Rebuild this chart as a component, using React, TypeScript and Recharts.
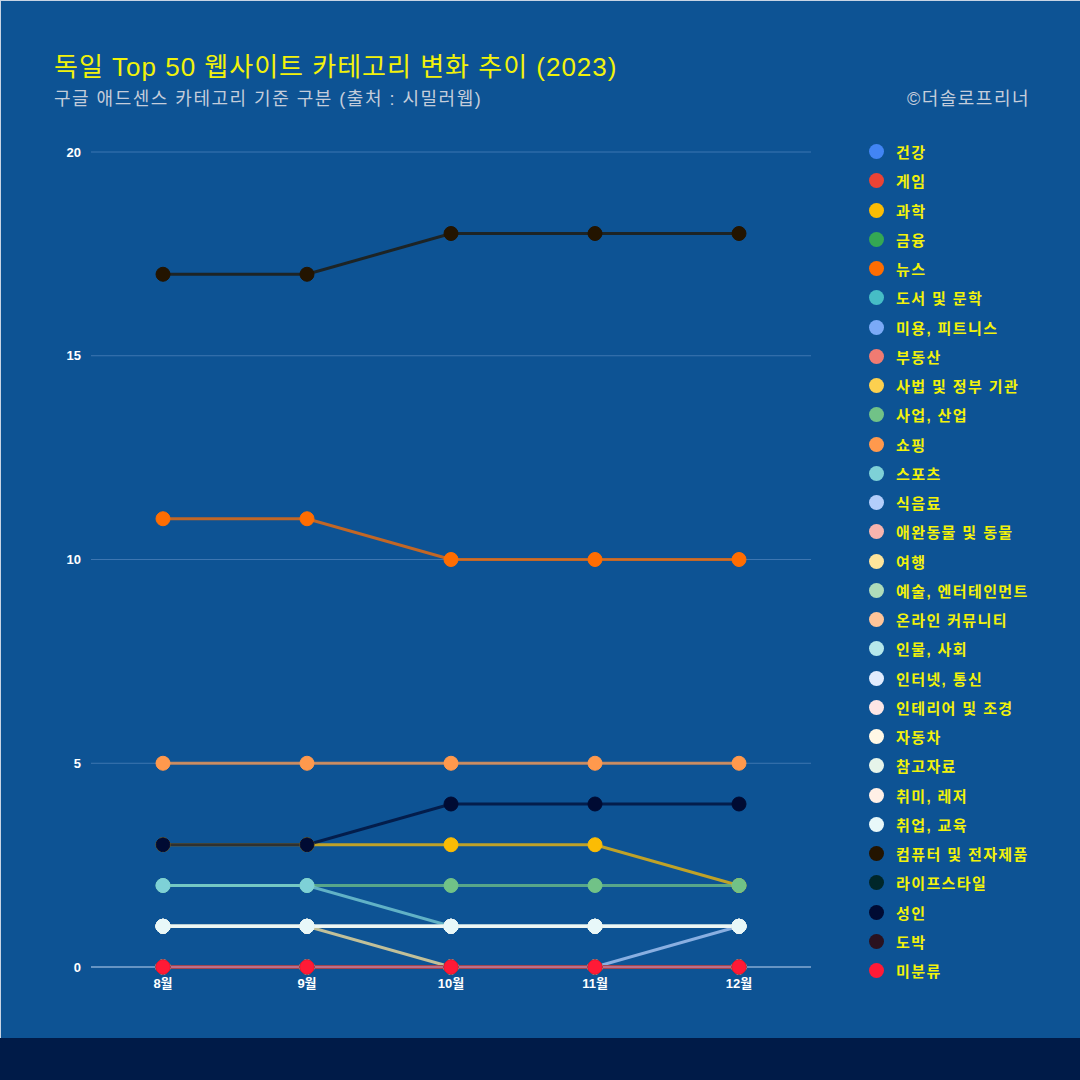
import { LineChart, Line, XAxis, YAxis, CartesianGrid } from 'recharts'

const months = ['8월', '9월', '10월', '11월', '12월']

const categories = [
  '건강', '게임', '과학', '금융', '뉴스', '도서 및 문학', '미용, 피트니스', '부동산',
  '사법 및 정부 기관', '사업, 산업', '쇼핑', '스포츠', '식음료', '애완동물 및 동물', '여행',
  '예술, 엔터테인먼트', '온라인 커뮤니티', '인물, 사회', '인터넷, 통신', '인테리어 및 조경',
  '자동차', '참고자료', '취미, 레저', '취업, 교육', '컴퓨터 및 전자제품', '라이프스타일',
  '성인', '도박', '미분류',
]

const colors = [
  '#4285f4', '#ea4335', '#fbbc04', '#34a853', '#ff6d01', '#46bdc6', '#7baaf7', '#f07b72',
  '#fcd04f', '#71c287', '#ff994d', '#7ed1d7', '#b3cefb', '#f7b4ae', '#fde49b',
  '#aedcba', '#ffc599', '#b5e8eb', '#e1ecfe', '#fde6e5',
  '#fff8e6', '#e6f4ea', '#fff0e6', '#e8f8f9', '#231400', '#00272a',
  '#000b33', '#2a1220', '#ff1a36',
]

// monthly counts per category, same order as categories (8월..12월)
const values = [
  [0, 0, 0, 0, 0], // 건강
  [0, 0, 0, 0, 0], // 게임
  [3, 3, 3, 3, 2], // 과학
  [0, 0, 0, 0, 0], // 금융
  [11, 11, 10, 10, 10], // 뉴스
  [0, 0, 0, 0, 0], // 도서 및 문학
  [0, 0, 0, 0, 0], // 미용, 피트니스
  [0, 0, 0, 0, 0], // 부동산
  [0, 0, 0, 0, 0], // 사법 및 정부 기관
  [2, 2, 2, 2, 2], // 사업, 산업
  [5, 5, 5, 5, 5], // 쇼핑
  [2, 2, 1, 1, 1], // 스포츠
  [0, 0, 0, 0, 1], // 식음료
  [0, 0, 0, 0, 0], // 애완동물 및 동물
  [1, 1, 0, 0, 0], // 여행
  [0, 0, 0, 0, 0], // 예술, 엔터테인먼트
  [0, 0, 0, 0, 0], // 온라인 커뮤니티
  [1, 1, 1, 1, 1], // 인물, 사회
  [1, 1, 1, 1, 1], // 인터넷, 통신
  [0, 0, 0, 0, 0], // 인테리어 및 조경
  [1, 1, 1, 1, 1], // 자동차
  [1, 1, 1, 1, 1], // 참고자료
  [1, 1, 1, 1, 1], // 취미, 레저
  [1, 1, 1, 1, 1], // 취업, 교육
  [17, 17, 18, 18, 18], // 컴퓨터 및 전자제품
  [0, 0, 0, 0, 0], // 라이프스타일
  [3, 3, 4, 4, 4], // 성인
  [0, 0, 0, 0, 0], // 도박
  [0, 0, 0, 0, 0], // 미분류
]

const yTicks = [0, 5, 10, 15, 20]

const data = months.map((m, i) => {
  const row: Record<string, string | number> = { month: m }
  categories.forEach((_, j) => {
    row['s' + j] = values[j][i]
  })
  return row
})

const font = '"Liberation Sans", "Noto Sans CJK KR", sans-serif'

function LegendList() {
  return (
    <div style={{ position: 'absolute', left: 868, top: 136 }}>
      {categories.map((c, i) => (
        <div key={c} style={{ display: 'flex', alignItems: 'center', height: 29.25 }}>
          <span
            style={{
              width: 15,
              height: 15,
              borderRadius: '50%',
              background: colors[i],
              display: 'inline-block',
              marginRight: 12,
            }}
          />
          <span style={{ color: '#f2f20a', fontWeight: 'bold', fontSize: 15, letterSpacing: 1.4 }}>{c}</span>
        </div>
      ))}
    </div>
  )
}

export default function App() {
  return (
    <div
      style={{
        position: 'absolute',
        left: 0,
        top: 0,
        width: 1080,
        height: 1080,
        background: '#001b48',
        fontFamily: font,
      }}
    >
      <div
        style={{
          position: 'absolute',
          left: 0,
          top: 0,
          width: 1079,
          height: 1037,
          background: '#0d5394',
          borderLeft: '1px solid #c8d4e4',
          borderTop: '1px solid #c8d4e4',
        }}
      >
        <div
          style={{
            position: 'absolute',
            left: 53,
            top: 45,
            color: '#f2f20a',
            fontSize: 26,
            letterSpacing: 1,
            whiteSpace: 'nowrap',
          }}
        >
          독일 Top 50 웹사이트 카테고리 변화 추이 (2023)
        </div>
        <div
          style={{
            position: 'absolute',
            left: 53,
            top: 83,
            color: '#c4cddb',
            fontSize: 18,
            letterSpacing: 1.5,
            whiteSpace: 'nowrap',
          }}
        >
          구글 애드센스 카테고리 기준 구분 (출처 : 시밀러웹)
        </div>
        <div
          style={{
            position: 'absolute',
            right: 50,
            top: 83,
            color: '#c4cddb',
            fontSize: 18,
            letterSpacing: 1.5,
            whiteSpace: 'nowrap',
          }}
        >
          ©더솔로프리너
        </div>
        <div style={{ position: 'absolute', left: 0, top: 0 }}>
          <LineChart
            width={1080}
            height={1037}
            data={data}
            margin={{ top: 151, right: 270, left: 50, bottom: 41 }}
          >
            <CartesianGrid vertical={false} stroke="#4a7fb8" strokeOpacity={0.8} />
            <XAxis
              dataKey="month"
              stroke="#a8c4e4"
              tickLine={false}
              height={30}
              padding={{ left: 72, right: 72 }}
              tickMargin={6}
              tick={{ fontSize: 13, fill: '#ffffff', fontWeight: 'bold', fontFamily: font }}
            />
            <YAxis
              domain={[0, 20]}
              ticks={yTicks}
              width={40}
              axisLine={false}
              tickLine={false}
              tickMargin={4}
              tick={{ fontSize: 13, fill: '#ffffff', fontWeight: 'bold', fontFamily: font }}
            />
            {categories.map((c, j) => (
              <Line
                key={c}
                type="linear"
                dataKey={'s' + j}
                name={c}
                stroke={colors[j]}
                strokeWidth={3}
                strokeOpacity={0.75}
                dot={{ r: 7, fill: colors[j], stroke: colors[j], strokeWidth: 1, fillOpacity: 1, strokeOpacity: 1 }}
                activeDot={false}
                isAnimationActive={false}
              />
            ))}
          </LineChart>
        </div>
        <LegendList />
      </div>
    </div>
  )
}
